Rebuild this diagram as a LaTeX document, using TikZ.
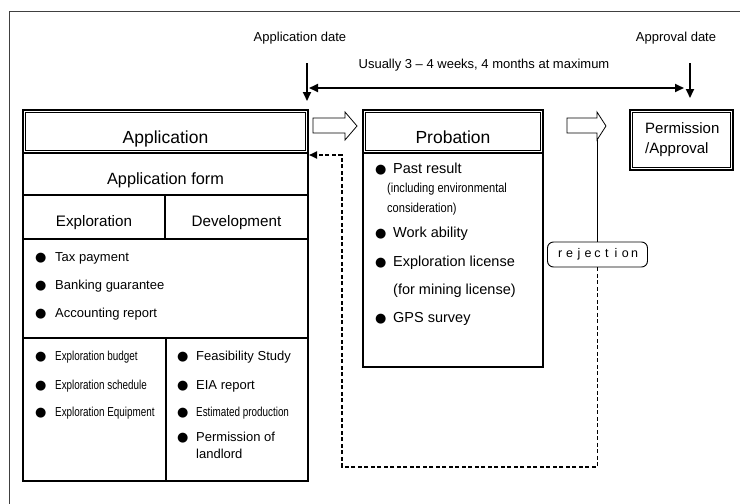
\documentclass[tikz,border=0pt]{standalone}
\usepackage{fontspec}
\usepackage{graphicx}
\setmainfont{Liberation Sans}
\newfontfamily\sym{DejaVu Sans}
\usetikzlibrary{arrows.meta}
\newcommand{\fs}[1]{\fontsize{#1}{#1}\selectfont}
\newcommand{\bul}[1]{\makebox[#1][l]{\sym\fs{13}●}}
\newcommand{\cnd}[1]{\scalebox{0.76}[1]{#1}}
\newcommand{\cnp}[1]{\scalebox{0.85}[1]{#1}}
\newcommand{\lt}[1]{\makebox[9.3pt][c]{#1}}
\begin{document}
\begin{tikzpicture}[x=1pt,y=-1pt,
  box/.style={draw, line width=1.8pt, inner sep=0},
  dbox/.style={draw, line width=2.6pt, inner sep=0},
  inner/.style={line width=1pt},
  title/.style={anchor=base, inner sep=0, font=\fs{17.5}},
  head/.style={anchor=base, inner sep=0, font=\fs{15.2}},
  itL/.style={anchor=base west, inner sep=0, font=\fs{13}},
  itP/.style={anchor=base west, inner sep=0, font=\fs{14.5}},
  toptext/.style={anchor=base, inner sep=0, font=\fs{13}},
  tl/.style={line width=1.8pt, -{Triangle[length=9pt,width=8pt]}},
  tlb/.style={line width=1.8pt, {Triangle[length=9pt,width=8pt]}-{Triangle[length=9pt,width=8pt]}},
  blockarrow/.style={draw, fill=white, line width=0.8pt, line join=miter},
  dashline/.style={line width=1.8pt, dash pattern=on 4pt off 2.5pt, -{Triangle[length=8pt,width=7pt]}},
  rejbox/.style={draw, line width=0.9pt, rounded corners=6pt, inner sep=0, minimum width=100pt, minimum height=25pt, font=\fs{12.5}}
]
\useasboundingbox (0,0) rectangle (740,504);
% outer frame (clipped)
\draw[line width=0.8pt, black!75] (9,504) -- (9,11) -- (740,11);

% timeline
\node[toptext] (ad) at (300,41.7) {Application date};
\node[toptext] (apd) at (676,41.7) {Approval date};
\node[toptext] (us) at (484,68.3) {Usually 3 – 4 weeks, 4 months at maximum};
\coordinate (v1s) at (307,63);
\coordinate (v1e) at (307,101);
\coordinate (v2s) at (690,63);
\coordinate (v2e) at (690,98);
\coordinate (hl) at (309,88);
\coordinate (hr) at (684,88);
\draw[tl] (v1s) -- (v1e);
\draw[tl] (v2s) -- (v2e);
\draw[tlb] (hl) -- (hr);

% Application title (double box)
\node[dbox, minimum width=285pt, minimum height=43pt] (app) at (165.5,131.5) {};
\draw[inner] ([shift={(3.4pt,-3.4pt)}]app.north west) rectangle ([shift={(-3.4pt,3.4pt)}]app.south east);
\node[title] (appT) at (165.5,143) {Application};

% Application form
\node[box, minimum width=285pt, minimum height=42pt] (form) at (165.5,174) {};
\node[head, font=\fs{16.3}] (formT) at (165.5,184) {Application form};
\node[box, minimum width=142pt, minimum height=44pt] (expl) at (94,217) {};
\node[box, minimum width=143pt, minimum height=44pt] (dev) at (236.5,217) {};
\node[head] (explT) at (94,226.7) {Exploration};
\node[head] (devT) at (236.5,226.7) {Development};
\node[box, minimum width=285pt, minimum height=99pt] (common) at (165.5,288.5) {};
\node[itL] (c1) at (35,261.5) {\bul{20pt}Tax payment};
\node[itL] (c2) at (35,289.5) {\bul{20pt}Banking guarantee};
\node[itL] (c3) at (35,317.5) {\bul{20pt}Accounting report};
\node[box, minimum width=143pt, minimum height=143pt] (el) at (94.5,409.5) {};
\node[box, minimum width=142pt, minimum height=143pt] (dl) at (237,409.5) {};
\node[itL] (e1) at (35,360) {\bul{20pt}\cnd{Exploration budget}};
\node[itL] (e2) at (35,389) {\bul{20pt}\cnd{Exploration schedule}};
\node[itL] (e3) at (35,416.5) {\bul{20pt}\cnd{Exploration Equipment}};
\node[itL] (d1) at (177,360.5) {\bul{19pt}Feasibility Study};
\node[itL] (d2) at (177,389) {\bul{19pt}EIA report};
\node[itL] (d3) at (177,416.5) {\bul{19pt}\cnd{Estimated production}};
\node[itL] (d4) at (177,441) {\bul{19pt}Permission of};
\node[itL] (d5) at (196,458.5) {landlord};

% Probation
\node[dbox, minimum width=180pt, minimum height=43pt] (prob) at (453,131.5) {};
\draw[inner] ([shift={(3.4pt,-3.4pt)}]prob.north west) rectangle ([shift={(-3.4pt,3.4pt)}]prob.south east);
\node[title] (probT) at (453,143) {Probation};
\node[box, minimum width=180pt, minimum height=214pt] (probC) at (453,260) {};
\node[itP] (p1) at (375,173.3) {\bul{18pt}Past result};
\node[itL] (p1a) at (387,192.7) {\cnp{(including environmental}};
\node[itL] (p1b) at (387,212.7) {\cnp{consideration)}};
\node[itP] (p2) at (375,237.7) {\bul{18pt}Work ability};
\node[itP] (p3) at (375,266) {\bul{18pt}Exploration license};
\node[itP] (p3a) at (393,294) {(for mining license)};
\node[itP] (p4) at (375,322.7) {\bul{18pt}GPS survey};

% Permission / Approval
\node[dbox, minimum width=103pt, minimum height=60pt] (perm) at (681.5,140) {};
\draw[inner] ([shift={(3.4pt,-3.4pt)}]perm.north west) rectangle ([shift={(-3.4pt,3.4pt)}]perm.south east);
\node[anchor=base west, inner sep=0, font=\fs{15}] (permT1) at (645,133.3) {Permission};
\node[anchor=base west, inner sep=0, font=\fs{15}] (permT2) at (645,153.3) {/Approval};

% block arrows
\draw[blockarrow] (313,118) -- (345,118) -- (345,112) -- (357,126) -- (345,140) -- (345,133) -- (313,133) -- cycle;
\draw[blockarrow] (567,118) -- (597,118) -- (597,112) -- (606,126) -- (597,140) -- (597,133) -- (567,133) -- cycle;
\coordinate (a2b) at (597.5,140);

% rejection
\node[rejbox] (rej) at (597.5,254.5) {\lt{r}\lt{e}\lt{j}\lt{e}\lt{c}\lt{t}\lt{i}\lt{o}\lt{n}};
\draw[line width=0.8pt] (a2b) -- (rej.north);
\coordinate (dA) at (597.5,467);
\coordinate (dB) at (342,467);
\coordinate (dC) at (342,155);
\coordinate (dD) at (309,155);
\draw[dashline] (rej.south) -- (dA) -- (dB) -- (dC) -- (dD);
\end{tikzpicture}
\end{document}
